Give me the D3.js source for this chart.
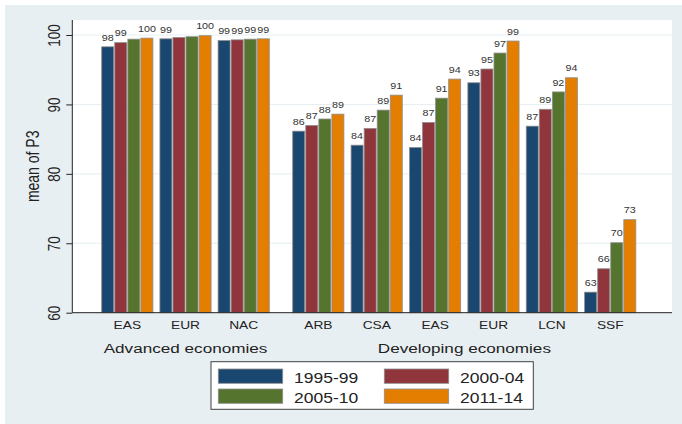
<!DOCTYPE html>
<html>
<head>
<meta charset="utf-8">
<script src="https://cdn.jsdelivr.net/npm/d3@7"></script>
<style>
  body { margin: 0; background: #fff; }
  svg { display: block; font-family: "Liberation Sans", Arial, sans-serif; }
</style>
</head>
<body>
<svg id="chart" width="682" height="424"></svg>
<script>
// ---- data -------------------------------------------------------------
const advanced   = ["EAS", "EUR", "NAC"];
const developing = ["ARB", "CSA", "EAS", "EUR", "LCN", "SSF"];
const groupNames = ["Advanced economies", "Developing economies"];
const periods    = ["1995-99", "2000-04", "2005-10", "2011-14"];
const colors     = ["#1a476f", "#90353b", "#55752f", "#e37e00"];

// mean of P3, one entry per region (advanced first, then developing)
const p1995_99 = [98.30, 99.45, 99.20, 86.15, 84.13, 83.80, 93.12, 86.87, 62.96];
const p2000_04 = [98.90, 99.65, 99.30, 86.97, 86.55, 87.40, 95.10, 89.30, 66.33];
const p2005_10 = [99.40, 99.75, 99.40, 87.90, 89.18, 90.90, 97.40, 91.80, 70.08];
const p2011_14 = [99.55, 99.90, 99.45, 88.60, 91.34, 93.65, 99.13, 93.84, 73.40];

const yTicks = [60, 70, 80, 90, 100];
const yTitle = "mean of P3";

// bars whose value label is left off
const unlabeled = ["0-EAS|2005-10", "0-EUR|2000-04", "0-EUR|2005-10"];

// ---- layout -------------------------------------------------------------
const W = 682, H = 424;
const SX = 1.25;                       // horizontal stretch of all lettering
const plot = { left: 72.3, right: 672, top: 20, bottom: 312.7 };
const bg = "#e8eff2";

const series = [p1995_99, p2000_04, p2005_10, p2011_14];
const rows = advanced.map((c, i) => ({ group: 0, cat: c, i }))
  .concat(developing.map((c, j) => ({ group: 1, cat: c, i: advanced.length + j })))
  .map(r => ({ ...r, values: periods.map((p, k) => ({ period: p, k, v: series[k][r.i] })) }));

const svg = d3.select("#chart");
svg.append("rect").attr("width", W).attr("height", H).attr("fill", "#fff");
svg.append("rect").attr("x", 5).attr("y", 5).attr("width", W - 5).attr("height", H - 5).attr("fill", bg);
svg.append("rect")
  .attr("x", plot.left).attr("y", plot.top)
  .attr("width", plot.right - plot.left).attr("height", plot.bottom - plot.top)
  .attr("fill", "#fff");

const y = d3.scaleLinear().domain([60, 100]).range([plot.bottom, 35]);

const xGroup = [
  d3.scaleBand().domain(advanced).range([101.7, 269.3]).paddingInner(0.12).paddingOuter(0),
  d3.scaleBand().domain(developing).range([292.7, 636]).paddingInner(0.12).paddingOuter(0)
];
const xPeriod = d3.scaleBand().domain(periods)
  .range([0, xGroup[0].bandwidth()]).paddingInner(0.08);

const fmt = d3.format(".0f");

// stretched text helper
function stext(parent, x, y, str, size, fill, anchor) {
  return parent.append("text")
    .attr("transform", `translate(${x},${y}) scale(${SX},1)`)
    .attr("text-anchor", anchor || "middle")
    .attr("font-size", size)
    .attr("fill", fill)
    .text(str);
}

// gridlines
svg.append("g").selectAll("line")
  .data(yTicks.filter(t => t > 60))
  .join("line")
  .attr("x1", plot.left).attr("x2", plot.right)
  .attr("y1", d => y(d)).attr("y2", d => y(d))
  .attr("stroke", "#e6eef1").attr("stroke-width", 1);

// bars
const gBars = svg.append("g");
rows.forEach(r => {
  const xs = xGroup[r.group];
  const g = gBars.append("g").attr("transform", `translate(${xs(r.cat)},0)`);
  g.selectAll("rect").data(r.values).join("rect")
    .attr("x", d => xPeriod(d.period))
    .attr("y", d => y(d.v))
    .attr("width", xPeriod.bandwidth())
    .attr("height", d => y(60) - y(d.v))
    .attr("fill", d => colors[d.k])
    .attr("stroke", "#8e8e8e").attr("stroke-width", 0.8);
  r.values.forEach(d => {
    if (unlabeled.includes(`${r.group}-${r.cat}|${d.period}`)) return;
    stext(g, xPeriod(d.period) + xPeriod.bandwidth() / 2, y(d.v) - 6.3, fmt(d.v), 8.6, "#333");
  });
});

// y axis
const yAxis = svg.append("g")
  .attr("transform", `translate(${plot.left},0)`)
  .call(d3.axisLeft(y).tickValues(yTicks).tickSize(6).tickFormat(d3.format("d")));
yAxis.select(".domain").attr("d", `M0,${plot.top}V${plot.bottom}`).attr("stroke", "#222");
yAxis.selectAll(".tick line").attr("stroke", "#222");
yAxis.selectAll(".tick text")
  .attr("x", null).attr("dy", null).attr("y", null)
  .attr("transform", `translate(-12.3,0) rotate(-90) scale(1,${SX})`)
  .attr("text-anchor", "middle")
  .attr("font-size", 13.5)
  .attr("font-family", "Liberation Sans, Arial, sans-serif")
  .attr("fill", "#222");

svg.append("text")
  .attr("transform", `translate(39,${(plot.top + plot.bottom) / 2}) rotate(-90) scale(1,${SX})`)
  .attr("text-anchor", "middle")
  .attr("font-size", 14)
  .attr("fill", "#222")
  .text(yTitle);

// x axis line
svg.append("line")
  .attr("x1", plot.left).attr("x2", plot.right)
  .attr("y1", plot.bottom).attr("y2", plot.bottom)
  .attr("stroke", "#222").attr("stroke-width", 1);

// category and group labels
xGroup.forEach((xs, gi) => {
  xs.domain().forEach(c => {
    stext(svg, xs(c) + xs.bandwidth() / 2, 329.3, c, 11, "#222");
  });
  const [r0, r1] = xs.range();
  stext(svg, (r0 + r1) / 2, 353.3, groupNames[gi], 13.7, "#222");
});

// legend
const leg = svg.append("g");
leg.append("rect")
  .attr("x", 211).attr("y", 361.7).attr("width", 322.3).attr("height", 47.6)
  .attr("fill", "#fff").attr("stroke", "#404040").attr("stroke-width", 1);
periods.forEach((p, k) => {
  const col = k % 2, row = Math.floor(k / 2);
  const sx = 218.3 + col * 166, sy = 369 + row * 20;
  leg.append("rect")
    .attr("x", sx).attr("y", sy).attr("width", 64.4).attr("height", 14.3)
    .attr("fill", colors[k]).attr("stroke", "#8e8e8e").attr("stroke-width", 0.8);
  stext(leg, sx + 75.7, sy + 14, p, 14, "#222", "start");
});
</script>
</body>
</html>
